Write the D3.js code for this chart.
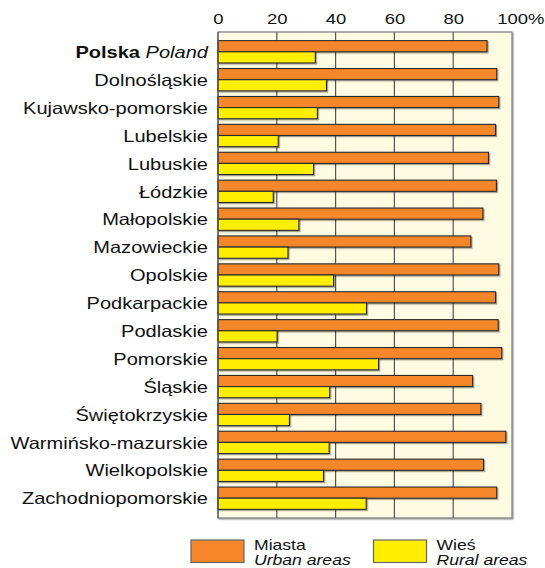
<!DOCTYPE html>
<html>
<head>
<meta charset="utf-8">
<script src="https://cdn.jsdelivr.net/npm/d3@7/dist/d3.min.js"></script>
<style>
  html, body { margin: 0; padding: 0; background: #fff; }
  svg { display: block; font-family: "Liberation Sans", Arial, Helvetica, sans-serif; }
</style>
</head>
<body>
<svg id="chart" width="545" height="568"></svg>
<script>
// Share of population (%) by voivodeship, urban vs rural
const regions = [
  "Polska", "Dolnośląskie", "Kujawsko-pomorskie", "Lubelskie", "Lubuskie",
  "Łódzkie", "Małopolskie", "Mazowieckie", "Opolskie", "Podkarpackie",
  "Podlaskie", "Pomorskie", "Śląskie", "Świętokrzyskie",
  "Warmińsko-mazurskie", "Wielkopolskie", "Zachodniopomorskie"
];
const urban = [91.5, 94.8, 95.5, 94.4, 92.0, 94.7, 90.1, 86.0, 95.5, 94.4,
               95.3, 96.5, 86.6, 89.4, 97.9, 90.3, 94.8];
const rural = [33.1, 36.9, 33.8, 20.5, 32.5, 18.8, 27.5, 23.8, 39.3, 50.5,
               20.1, 54.6, 38.0, 24.3, 37.8, 35.9, 50.4];
const ticks = [0, 20, 40, 60, 80, 100];
const seriesNames = [
  { pl: "Miasta", en: "Urban areas" },
  { pl: "Wieś", en: "Rural areas" }
];

const colors = ["#f5862a", "#ffee00"];
const stretch = 1.23; // horizontal glyph widening used for all labels

const svg = d3.select("#chart");
const plot = { left: 218, right: 512, top: 32, bottom: 518 };

const x = d3.scaleLinear().domain([0, 100]).range([plot.left, plot.right]);
const y = d3.scaleBand().domain(regions)
  .range([plot.top, plot.bottom]).paddingInner(0.2).paddingOuter(0.31);

// shadow filter for bars and frame
const defs = svg.append("defs");
const f = defs.append("filter").attr("id", "sh").attr("x", "-5%").attr("y", "-20%")
  .attr("width", "115%").attr("height", "160%");
f.append("feDropShadow").attr("dx", 1.2).attr("dy", 1.2).attr("stdDeviation", 0.6)
  .attr("flood-color", "#000").attr("flood-opacity", 0.35);

// plot background
svg.append("rect")
  .attr("x", plot.left).attr("y", plot.top)
  .attr("width", plot.right - plot.left).attr("height", plot.bottom - plot.top)
  .attr("fill", "#fffbe2").attr("stroke", "#7a7a7a").attr("stroke-width", 1.2)
  .attr("filter", "url(#sh)");

// vertical gridlines
svg.append("g").selectAll("line").data(ticks.slice(1, -1)).join("line")
  .attr("x1", d => x(d)).attr("x2", d => x(d))
  .attr("y1", plot.top).attr("y2", plot.bottom)
  .attr("stroke", "#555").attr("stroke-width", 1.2);

// top axis
const axis = svg.append("g")
  .attr("transform", `translate(0,${plot.top})`)
  .call(d3.axisTop(x).tickValues(ticks).tickSize(0).tickPadding(8)
    .tickFormat(d => d === 100 ? "100%" : String(d)));
axis.select(".domain").remove();
axis.selectAll("text")
  .attr("fill", "#111").style("font-size", "15px")
  .attr("transform", `scale(${stretch},1)`);
axis.selectAll(".tick").filter(d => d === 100).select("text")
  .attr("text-anchor", "start").attr("x", -12.5);

// bars
const bh = y.bandwidth() / 2;
const groups = svg.append("g").selectAll("g").data(regions).join("g")
  .attr("transform", d => `translate(0,${y(d)})`);

[urban, rural].forEach((vals, s) => {
  groups.append("rect")
    .attr("x", x(0))
    .attr("y", s * bh)
    .attr("width", (d, i) => x(vals[i]) - x(0))
    .attr("height", bh)
    .attr("fill", colors[s])
    .attr("stroke", "#2b2b2b").attr("stroke-width", 1.1)
    .attr("filter", "url(#sh)");
});

// left axis line
svg.append("line")
  .attr("x1", x(0)).attr("x2", x(0)).attr("y1", plot.top).attr("y2", plot.bottom)
  .attr("stroke", "#555").attr("stroke-width", 1.2);

// category labels
const labels = svg.append("g").selectAll("text").data(regions).join("text")
  .attr("transform", d => `translate(208,${y(d) + y.bandwidth() / 2}) scale(${stretch},1)`)
  .attr("text-anchor", "end").attr("dy", "0.38em")
  .attr("fill", "#111").style("font-size", "16.3px");
labels.each(function (d, i) {
  const t = d3.select(this);
  if (i === 0) {
    t.append("tspan").attr("font-weight", "bold").text("Polska");
    t.append("tspan").attr("font-style", "italic").text(" Poland");
  } else {
    t.text(d);
  }
});

// legend
const legend = svg.append("g");
const legendX = [191, 373.5];
seriesNames.forEach((s, i) => {
  const g = legend.append("g").attr("transform", `translate(${legendX[i]},540)`);
  g.append("rect").attr("width", 53).attr("height", 22.5)
    .attr("fill", colors[i]).attr("stroke", "#666").attr("stroke-width", 1.2);
  g.append("text").attr("transform", `translate(63,9.5) scale(${stretch},1)`)
    .attr("fill", "#111").style("font-size", "14.3px").text(s.pl);
  g.append("text").attr("transform", `translate(63,25) scale(${stretch},1)`)
    .attr("fill", "#111").style("font-size", "14.3px").attr("font-style", "italic").text(s.en);
});
</script>
</body>
</html>
